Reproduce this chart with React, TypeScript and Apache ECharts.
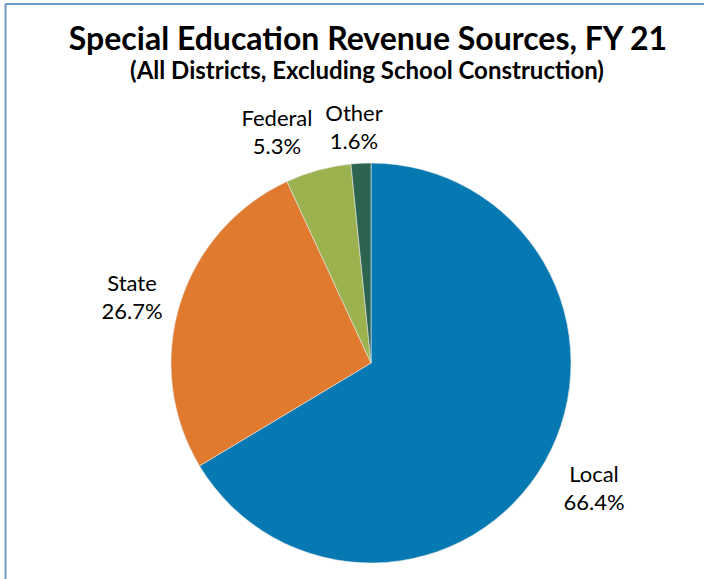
import React, { useEffect, useRef } from "react";
import * as echarts from "echarts";

const categories = ["Local", "State", "Federal", "Other"];
const values = [66.4, 26.7, 5.3, 1.6];
const colors = ["#0779B2", "#E07A2E", "#9BB24F", "#2C6450"];

const titleText = "Special Education Revenue Sources, FY 21";
const subtitleText = "(All Districts, Excluding School Construction)";

// label anchor positions (layout)
const labelPos: [number, number][] = [
  [594, 487],
  [132, 296],
  [277, 131],
  [354, 126],
];

export default function App() {
  const ref = useRef<HTMLDivElement>(null);
  useEffect(() => {
    if (!ref.current) return;
    const chart = echarts.init(ref.current, null, { renderer: "svg" });
    const font = "Lato, 'Noto Sans', sans-serif";
    chart.setOption({
      animation: false,
      backgroundColor: "#ffffff",
      graphic: [
        {
          type: "line",
          shape: { x1: 5.5, y1: 4, x2: 5.5, y2: 579 },
          style: { stroke: "#6A9BC5", lineWidth: 2 },
        },
        {
          type: "line",
          shape: { x1: 5.5, y1: 4, x2: 704, y2: 4 },
          style: { stroke: "#6A9BC5", lineWidth: 2 },
        },
        {
          type: "text",
          x: 368,
          y: 37,
          style: {
            text: titleText,
            fontFamily: font,
            fontWeight: "bold",
            fontSize: 32,
            fill: "#000000",
            align: "center",
            verticalAlign: "middle",
          },
        },
        {
          type: "text",
          x: 367,
          y: 69,
          style: {
            text: subtitleText,
            fontFamily: font,
            fontWeight: "bold",
            fontSize: 24,
            fill: "#000000",
            align: "center",
            verticalAlign: "middle",
          },
        },
      ],
      series: [
        {
          type: "pie",
          center: [371, 363],
          radius: 200,
          startAngle: 90,
          clockwise: true,
          avoidLabelOverlap: false,
          data: categories.map((c, i) => ({
            name: c,
            value: values[i],
            itemStyle: { color: colors[i] },
          })),
          itemStyle: { borderColor: "#e8e8e8", borderWidth: 0.6 },
          label: {
            show: true,
            position: "outside",
            formatter: (p: any) => `${p.name}\n${p.value.toFixed(1)}%`,
            fontFamily: font,
            fontSize: 22,
            lineHeight: 28,
            color: "#000000",
            align: "center",
          },
          labelLine: { show: false },
          labelLayout: (p: any) => ({
            x: labelPos[p.dataIndex][0],
            y: labelPos[p.dataIndex][1],
            align: "center",
            verticalAlign: "middle",
          }),
          emphasis: { disabled: true },
        },
      ],
    });
    return () => chart.dispose();
  }, []);
  return (
    <div
      ref={ref}
      style={{ position: "fixed", left: 0, top: 0, width: 704, height: 579 }}
    />
  );
}
